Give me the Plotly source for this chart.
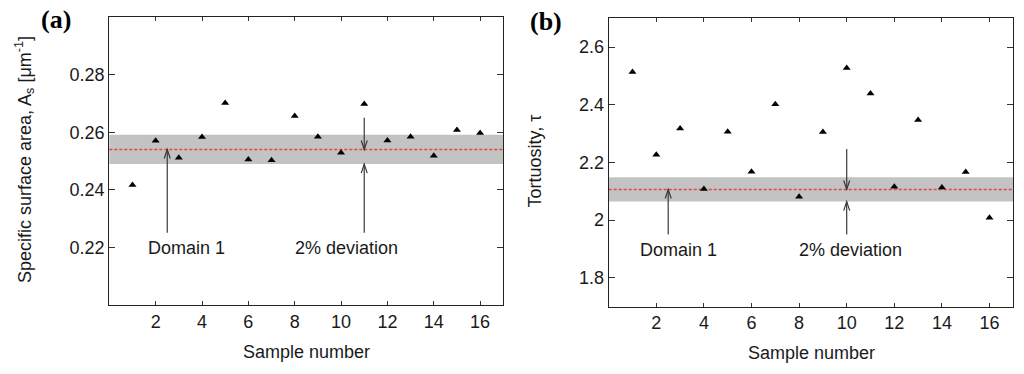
import plotly.graph_objects as go

# ---- data ----
samples = list(range(1, 17))
surface_area = [0.2417, 0.2570, 0.2511, 0.2583, 0.2701, 0.2505, 0.2503, 0.2656,
                0.2584, 0.2529, 0.2698, 0.2571, 0.2584, 0.2518, 0.2608, 0.2597]
tortuosity = [2.514, 2.227, 2.318, 2.108, 2.307, 2.168, 2.402, 2.081,
              2.306, 2.528, 2.439, 2.116, 2.347, 2.113, 2.167, 2.008]
domain1_a = 0.254      # Domain 1 value, panel (a)
domain1_b = 2.1065     # Domain 1 value, panel (b)
deviation = 0.02       # 2 % band

x_ticks = [2, 4, 6, 8, 10, 12, 14, 16]
y_ticks_a = [0.22, 0.24, 0.26, 0.28]
y_ticks_b = [1.8, 2.0, 2.2, 2.4, 2.6]
y_ticktext_b = ["1.8", "2", "2.2", "2.4", "2.6"]

FONT = "Liberation Sans, Arial, Helvetica, sans-serif"
TXT = "#1a1a1a"
ARROW = "#3a3a3a"

fig = go.Figure()
fig.add_trace(go.Scatter(x=samples, y=surface_area, mode="markers", xaxis="x", yaxis="y",
                         marker=dict(symbol="triangle-up", size=7, color="black"),
                         showlegend=False, hoverinfo="x+y"))
fig.add_trace(go.Scatter(x=samples, y=tortuosity, mode="markers", xaxis="x2", yaxis="y2",
                         marker=dict(symbol="triangle-up", size=7, color="black"),
                         showlegend=False, hoverinfo="x+y"))

W, H = 1024, 374
def px_dom(a, b, total):
    return [a / total, b / total]

axis_common = dict(showline=True, linecolor="#222", linewidth=1.2, mirror="ticks",
                   ticks="inside", tickcolor="#333", tickwidth=1.2,
                   showgrid=False, zeroline=False,
                   tickfont=dict(family=FONT, size=18, color=TXT))

fig.update_layout(
    width=W, height=H, margin=dict(l=0, r=0, t=0, b=0),
    paper_bgcolor="white", plot_bgcolor="white",
    xaxis=dict(domain=px_dom(109.3, 503.3, W), range=[0, 17], anchor="y",
               tickvals=x_ticks, ticklen=4, **axis_common),
    yaxis=dict(domain=[1 - 305 / H, 1 - 17 / H], range=[0.2, 0.3], anchor="x",
               tickvals=y_ticks_a, ticktext=[f"{v:.2f}" for v in y_ticks_a], ticklen=6,
               **axis_common),
    xaxis2=dict(domain=px_dom(608.7, 1013.3, W), range=[0, 17], anchor="y2",
                tickvals=x_ticks, ticklen=4, **axis_common),
    yaxis2=dict(domain=[1 - 306.7 / H, 1 - 18.3 / H], range=[1.7, 2.7], anchor="x2",
                tickvals=y_ticks_b, ticktext=y_ticktext_b, ticklen=6, **axis_common),
)

shapes = []
annotations = []

def panel(xr, yr, mean, arrow_x1, arrow_x2, low_y, high_y, label_y, lab1_x, lab2_x):
    lo = mean * (1 - deviation)
    hi = mean * (1 + deviation)
    xd = xr + " domain"
    # band
    shapes.append(dict(type="rect", xref=xd, yref=yr, x0=0, x1=1, y0=lo, y1=hi,
                       fillcolor="#c3c3c3", line=dict(width=0), layer="below"))
    # mean line
    shapes.append(dict(type="line", xref=xd, yref=yr, x0=0, x1=1, y0=mean, y1=mean,
                       line=dict(color="#e8433e", width=1.5, dash="3px,2px"), layer="below"))
    # arrows (stems + open heads)
    stems = [(arrow_x1, low_y, mean, "up"), (arrow_x2, high_y, mean, "down"),
             (arrow_x2, low_y, lo, "up")]
    for ax, y0, y1, d in stems:
        shapes.append(dict(type="line", xref=xr, yref=yr, x0=ax, x1=ax, y0=y0, y1=y1,
                           line=dict(color=ARROW, width=1.2)))
        head = "M-3,-9 L0,0 L3,-9" if d == "up" else "M-3,9 L0,0 L3,9"
        shapes.append(dict(type="path", xref=xr, yref=yr,
                           xsizemode="pixel", ysizemode="pixel", xanchor=ax, yanchor=y1,
                           path=head, line=dict(color=ARROW, width=1.2)))
    annotations.append(dict(xref=xr, yref=yr, x=lab1_x, y=label_y, text="Domain 1",
                            xanchor="center", yanchor="middle",
                            showarrow=False, font=dict(family=FONT, size=18, color=TXT)))
    annotations.append(dict(xref=xr, yref=yr, x=lab2_x, y=label_y, text="2% deviation",
                            xanchor="center", yanchor="middle",
                            showarrow=False, font=dict(family=FONT, size=18, color=TXT)))

panel("x", "y", domain1_a, 2.5, 11, 0.2251, 0.265, 0.2198, 3.34, 10.25)
panel("x2", "y2", domain1_b, 2.5, 10, 1.95, 2.247, 1.898, 2.92, 10.18)

def paper_text(x, y, text, font, angle=0):
    return dict(xref="paper", yref="paper", x=x / W, y=1 - y / H, text=text,
                xanchor="center", yanchor="middle", textangle=angle,
                showarrow=False, font=font)

f18 = dict(family=FONT, size=18, color=TXT)
fser = dict(family="Liberation Serif, Times New Roman, serif", size=26, color="black")
annotations += [
    paper_text(306.3, 352, "Sample number", f18),
    paper_text(811, 353, "Sample number", f18),
    paper_text(25, 160, "Specific surface area, A<sub>s</sub> [μm<sup>-1</sup>]", f18, -90),
    paper_text(534, 161.5, "Tortuosity, τ", f18, -90),
    paper_text(56, 20, "<b>(a)</b>", fser),
    paper_text(546, 21, "<b>(b)</b>", fser),
]

fig.update_layout(shapes=shapes, annotations=annotations)
fig.write_html("out.html", config={"displayModeBar": False},
               post_script="document.body.style.margin='0px';document.body.style.padding='0px';")
